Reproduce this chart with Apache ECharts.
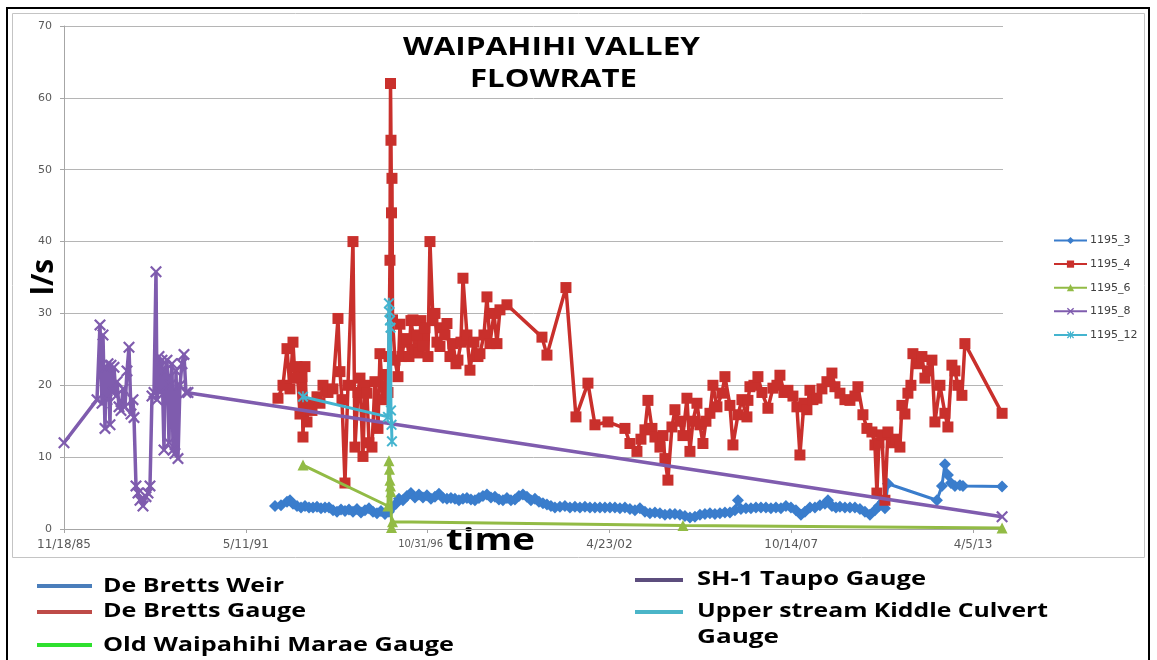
<!DOCTYPE html>
<html><head><meta charset="utf-8">
<script src="https://cdn.jsdelivr.net/npm/echarts@6/dist/echarts.min.js"></script>
<style>html,body{margin:0;padding:0;background:#fff}#c{width:1157px;height:660px}</style>
</head><body><div id="c"></div>
<script>
// x values are days since 18 Nov 1985 (the axis origin); y values are flow in l/s
const seriesNames = ['1195_3', '1195_4', '1195_6', '1195_8', '1195_12'];

const days3 = [2321,2387,2453,2486,2519,2563,2607,2651,2695,2739,2783,2827,2871,2915,2959,3003,3047,3091,3135,3179,3223,3267,3311,3355,3399,3443,3487,3531,3575,3608,3652,3685,3729,3773,3817,3861,3905,3949,3993,4037,4081,4125,4169,4213,4257,4301,4345,4389,4433,4477,4521,4565,4609,4653,4697,4741,4785,4829,4873,4917,4961,5005,5049,5093,5137,5181,5225,5269,5313,5357,5401,5456,5511,5566,5621,5676,5731,5786,5841,5896,5951,6006,6061,6116,6171,6226,6281,6336,6391,6446,6501,6556,6611,6666,6721,6776,6831,6886,6941,6996,7051,7106,7161,7216,7271,7326,7381,7414,7447,7502,7557,7612,7667,7722,7777,7832,7887,7942,7997,8052,8107,8151,8206,8261,8316,8371,8404,8448,8492,8536,8591,8646,8701,8756,8811,8866,8921,8965,9009,9031,9064,9603,9658,9691,9724,9757,9801,9856,9889,10320];
const flow3 = [3.2,3.3,3.8,4.0,3.5,3.2,3.0,3.2,3.0,3.0,3.1,2.9,3.0,3.0,2.6,2.4,2.7,2.5,2.7,2.4,2.8,2.3,2.6,2.9,2.4,2.2,2.5,2.1,2.4,3.0,3.5,4.2,4.0,4.6,5.0,4.4,4.8,4.4,4.7,4.2,4.5,4.9,4.3,4.2,4.3,4.2,4.0,4.2,4.3,4.1,4.0,4.3,4.6,4.8,4.4,4.5,4.1,4.0,4.3,4.0,4.1,4.6,4.8,4.5,4.0,4.2,3.8,3.6,3.4,3.2,3.0,3.1,3.2,3.0,3.1,3.0,3.1,3.0,3.0,3.0,3.0,3.0,3.0,2.9,3.0,2.8,2.6,2.9,2.4,2.2,2.3,2.2,2.0,2.1,2.1,2.0,1.8,1.6,1.7,2.0,2.1,2.2,2.1,2.2,2.3,2.3,2.6,4.0,2.8,2.9,2.9,3.0,3.0,3.0,2.9,3.0,2.9,3.2,3.0,2.6,2.0,2.4,3.0,3.0,3.3,3.5,4.0,3.2,3.0,3.1,3.0,3.0,3.0,2.8,2.4,2.0,2.6,3.2,3.8,2.9,6.3,4.0,6.0,9.0,7.5,6.4,6.0,6.1,6.0,5.9];

const days4 = [2354,2409,2453,2486,2519,2541,2563,2596,2618,2629,2651,2673,2684,2728,2783,2816,2849,2904,2959,3014,3036,3058,3091,3124,3179,3201,3234,3256,3289,3311,3333,3355,3388,3421,3454,3476,3509,3542,3564,3575,3586,3592,3597,3603,3608,3614,3641,3674,3696,3718,3740,3773,3795,3817,3839,3861,3883,3905,3927,3949,3971,4004,4026,4059,4081,4103,4136,4158,4191,4213,4246,4279,4312,4334,4367,4389,4433,4466,4510,4554,4576,4620,4653,4686,4730,4763,4796,4873,5258,5313,5522,5632,5764,5841,5984,6171,6226,6303,6347,6391,6424,6468,6501,6556,6589,6611,6644,6688,6721,6776,6809,6853,6886,6919,6963,6996,7029,7062,7106,7139,7183,7238,7271,7326,7359,7414,7458,7513,7524,7546,7590,7634,7678,7744,7799,7843,7876,7920,7964,8019,8063,8096,8140,8173,8206,8239,8283,8338,8393,8448,8481,8536,8591,8646,8701,8734,8789,8833,8888,8921,8943,8965,8998,9031,9064,9108,9152,9196,9218,9251,9284,9317,9339,9394,9438,9471,9504,9548,9581,9636,9691,9724,9768,9801,9834,9878,9911,10320];
const flow4 = [18.2,20,25.1,19.5,26,21,22.6,16,21.2,12.8,22.6,14.9,17.5,16.5,18.4,17.5,20,19,19.5,29.3,21.9,18,6.4,20,40,11.4,19,21,10.1,20,18.9,12,11.4,20.5,14,24.4,18,21.5,19,24,37.4,62,54.1,44,48.8,29.1,23.5,21.2,28.5,24,26,26.5,24,29,29.1,25,27,24.5,29,25.5,28,24,40,29,30,26,25.4,28,27,28.6,24,25.8,23,23.5,26,34.9,27,22.1,26,24,24.4,27,32.3,25.8,30,25.8,30.5,31.2,26.7,24.2,33.6,15.6,20.3,14.5,14.9,14,11.9,10.8,12.5,13.8,17.9,14,12.8,11.4,13,9.8,6.8,14.2,16.6,15,13,18.2,10.8,15,17.5,14.5,11.9,15,16.1,20,17,18.9,21.2,17.2,11.7,15.9,18,15.6,17.9,19.8,20,21.2,19,16.8,19.6,20,21.4,19,19.3,18.5,17,10.3,17.5,16.6,19.3,18,18.2,19.5,20.5,21.7,19.8,18.9,18,17.9,18.5,19.8,15.9,14,13.5,11.7,5,12,13.1,4,13.5,12,12.5,11.4,17.2,16,18.9,20,24.4,23,24,21,22,23.5,14.9,20,16.1,14.2,22.8,22,20,18.6,25.8,16.1];

const days6 = [2629,3564,3575,3581,3586,3592,3597,3603,3614,6809,10320];
const flow6 = [8.9,3.2,9.5,8.3,6.8,6.0,5.2,0.2,1.0,0.5,0.15];

const days8 = [0,363,396,418,429,451,462,473,484,506,517,539,550,572,583,605,627,649,671,693,715,737,759,770,792,814,836,869,902,924,946,968,990,1012,1023,1045,1056,1078,1100,1111,1133,1155,1166,1188,1199,1221,1232,1254,1276,1298,1320,1342,1364,10320];
const flow8 = [12,18,28.4,17.5,27,14,22.5,18,23,14.5,22.8,19,22.5,18.5,20.5,17,16.5,19.5,17,22,25.3,16,18,15.5,6,5,4,3.2,4.5,5,6,18.5,19,35.8,18,24,19,23.5,11,22,23.5,12,20,23,11,10.5,22,9.8,20,23,24.3,19,19,1.7];

const days12 = [2629,3564,3575,3581,3586,3592,3597,3603,3608];
const flow12 = [18.4,15.6,31.4,30.2,29,28,16.5,14.5,12.2];

const titleLines = ['WAIPAHIHI VALLEY', 'FLOWRATE'];
const yAxisTitle = 'l/s';
const xAxisTitle = 'time';
const gaugeNames = ['De Bretts Weir', 'De Bretts Gauge', 'Old Waipahihi Marae Gauge', 'SH-1 Taupo Gauge', 'Upper stream Kiddle Culvert', 'Gauge'];

const ORIGIN = Date.UTC(1985, 10, 18);
function dayLabel(v) {
  if (v % 2000 !== 0) return '';
  const d = new Date(ORIGIN + v * 86400000);
  const s = (d.getUTCMonth() + 1) + '/' + d.getUTCDate() + '/' + String(d.getUTCFullYear()).slice(2);
  return v === 4000 ? '{small|' + s + '}' : s;   // the label beside "time" is set smaller in the original
}
function zip(xs, ys) { return xs.map((x, i) => [x, ys[i]]); }

const ctx = document.createElement('canvas').getContext('2d');
function fitScale(text, font, w) { ctx.font = font; return w / ctx.measureText(text).width; }

const X_PATH = 'path://M1.3,0 L5,3.7 L8.7,0 L10,1.3 L6.3,5 L10,8.7 L8.7,10 L5,6.3 L1.3,10 L0,8.7 L3.7,5 L0,1.3 Z';
const STAR_PATH = 'path://M1.3,0 L5,3.7 L8.7,0 L10,1.3 L6.3,5 L10,8.7 L8.7,10 L5,6.3 L1.3,10 L0,8.7 L3.7,5 L0,1.3 Z M4.3,0 L5.7,0 L5.7,10 L4.3,10 Z';

const colors = ['#3a7dcc', '#c9302c', '#92bb45', '#7f5cae', '#44b4cf'];
const symbols = ['diamond', 'rect', 'triangle', X_PATH, STAR_PATH];
const sizes = [12, 11, 11, 12, 11];
const widths = [3, 3.5, 3, 3.5, 3];
const dataSets = [zip(days3, flow3), zip(days4, flow4), zip(days6, flow6), zip(days8, flow8), zip(days12, flow12)];

const series = seriesNames.map((n, i) => ({
  name: n, type: 'line', data: dataSets[i], z: 2 + i,
  symbol: symbols[i], symbolSize: sizes[i], showSymbol: true,
  lineStyle: { width: widths[i], color: colors[i] },
  itemStyle: { color: colors[i] },
  animation: false
}));

const TF = 'bold 25px "Open Sans"';
const LF = 'bold 20px "Open Sans"';
function txt(text, x, y, font, w, extra) {
  return Object.assign({ type: 'text', x: x, y: y, scaleX: fitScale(text, font, w),
    style: { text: text, font: font, fill: '#000', align: 'left', verticalAlign: 'middle' } }, extra || {});
}
function seg(x1, x2, y, c) {
  return { type: 'line', shape: { x1: x1, y1: y, x2: x2, y2: y }, style: { stroke: c, lineWidth: 4 } };
}

const graphic = [
  { type: 'rect', shape: { x: 7, y: 8, width: 1142, height: 700 }, style: { fill: 'none', stroke: '#000', lineWidth: 2 }, silent: true },
  { type: 'rect', shape: { x: 12.5, y: 13.5, width: 1132, height: 544 }, style: { fill: 'none', stroke: '#c4c4c4', lineWidth: 1 }, silent: true },
  txt(titleLines[0], 403, 48, TF, 297),
  txt(titleLines[1], 470, 80, TF, 167),
  { type: 'text', x: 44, y: 277, rotation: Math.PI / 2,
    style: { text: yAxisTitle, font: 'bold 30px "Open Sans"', fill: '#000', align: 'center', verticalAlign: 'middle' } },
  txt(xAxisTitle, 446, 541, 'bold 30px "Open Sans"', 89),
  seg(37, 92, 586, '#4a7ebb'), txt(gaugeNames[0], 103, 586, LF, 181),
  seg(37, 92, 612, '#be4b48'), txt(gaugeNames[1], 103, 611, LF, 203),
  seg(37, 92, 645, '#2ee02e'), txt(gaugeNames[2], 103, 645, LF, 351),
  seg(635, 683, 580, '#5c4d7d'), txt(gaugeNames[3], 697, 579, LF, 229),
  seg(635, 683, 612, '#4bb5c8'), txt(gaugeNames[4], 697, 611, LF, 351),
  txt(gaugeNames[5], 697, 637, LF, 82)
];

const chart = echarts.init(document.getElementById('c'));
chart.setOption({
  animation: false,
  backgroundColor: '#fff',
  grid: { left: 64, right: 154, top: 26, bottom: 131, containLabel: false, outerBoundsMode: 'none' },
  legend: {
    orient: 'vertical', left: 1053, top: 235, padding: 0, itemWidth: 33, itemHeight: 9, itemGap: 12.6,
    data: seriesNames,
    textStyle: { fontSize: 11, color: '#404040', fontFamily: 'DejaVu Sans', padding: [0, 0, 0, -2] }
  },
  xAxis: {
    type: 'value', min: 0, max: 10330, interval: 2000,
    axisLine: { show: true, lineStyle: { color: '#a6a6a6', width: 1 } },
    axisTick: { show: true, length: 4, lineStyle: { color: '#a6a6a6' } },
    axisLabel: {
      formatter: dayLabel, color: '#595959', fontSize: 12, fontFamily: 'DejaVu Sans', margin: 10, showMaxLabel: false,
      rich: { small: { fontSize: 10, color: '#595959', fontFamily: 'DejaVu Sans', padding: [0, 14, 0, 0] } }
    },
    splitLine: { show: false }
  },
  yAxis: {
    type: 'value', min: 0, max: 70, interval: 10,
    axisLine: { show: true, lineStyle: { color: '#a6a6a6', width: 1 } },
    axisTick: { show: true, length: 4, lineStyle: { color: '#a6a6a6' } },
    axisLabel: { color: '#595959', fontSize: 11, fontFamily: 'DejaVu Sans', margin: 12 },
    splitLine: { lineStyle: { color: '#b5b5b5', width: 1 } }
  },
  graphic: graphic,
  series: series
});
</script></body></html>
